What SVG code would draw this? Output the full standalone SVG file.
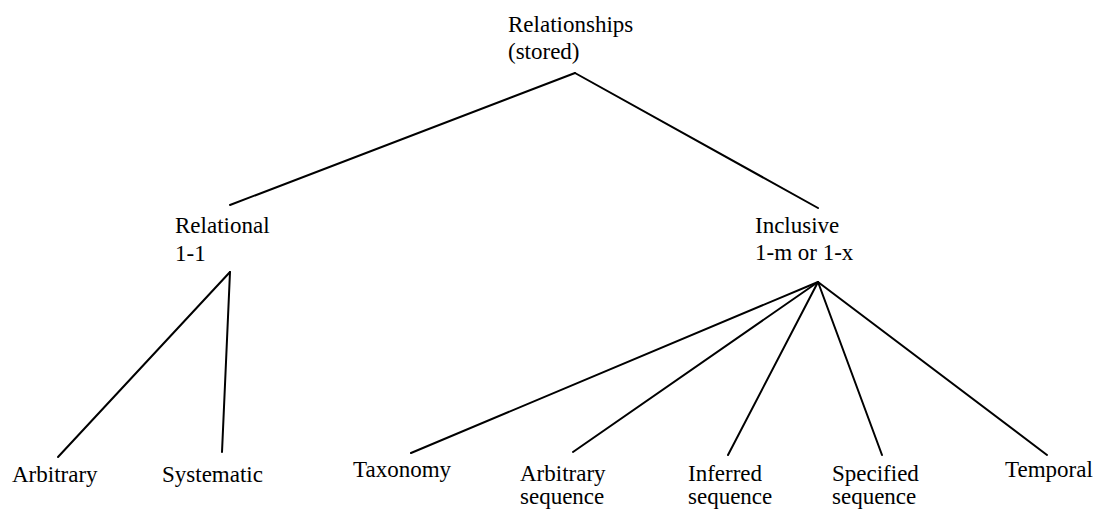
<svg xmlns="http://www.w3.org/2000/svg" width="1102" height="511" viewBox="0 0 1102 511">
  <style>
    .lbl { font-family: "Liberation Serif", "Times New Roman", serif; font-size: 23px; fill: #000; }
    .edge { stroke: #000; stroke-width: 2; fill: none; stroke-linecap: round; }
  </style>
  <rect width="1102" height="511" fill="#fff"/>

  <!-- tree edges -->
  <g id="connectors">
    <line class="edge" x1="575" y1="73" x2="230" y2="205"/>
    <line class="edge" x1="575" y1="73" x2="818" y2="208"/>
    <line class="edge" x1="230" y1="272" x2="58" y2="457"/>
    <line class="edge" x1="230" y1="272" x2="222" y2="452"/>
    <line class="edge" x1="818" y1="282" x2="411" y2="453"/>
    <line class="edge" x1="818" y1="282" x2="573" y2="452"/>
    <line class="edge" x1="818" y1="282" x2="728" y2="455"/>
    <line class="edge" x1="818" y1="282" x2="882" y2="455"/>
    <line class="edge" x1="818" y1="282" x2="1047" y2="455"/>
  </g>

  <g id="root">
    <text class="lbl" x="508" y="32">Relationships</text>
    <text class="lbl" x="508" y="59">(stored)</text>
  </g>
  <g id="relational">
    <text class="lbl" x="175" y="233">Relational</text>
    <text class="lbl" x="175" y="261">1-1</text>
  </g>
  <g id="inclusive">
    <text class="lbl" x="755" y="233">Inclusive</text>
    <text class="lbl" x="755" y="260">1-m or 1-x</text>
  </g>
  <g id="arbitrary">
    <text class="lbl" x="12" y="482">Arbitrary</text>
  </g>
  <g id="systematic">
    <text class="lbl" x="162" y="482">Systematic</text>
  </g>
  <g id="taxonomy">
    <text class="lbl" x="353" y="477">Taxonomy</text>
  </g>
  <g id="arbitrary-sequence">
    <text class="lbl" x="520" y="481">Arbitrary</text>
    <text class="lbl" x="520" y="504">sequence</text>
  </g>
  <g id="inferred-sequence">
    <text class="lbl" x="688" y="481">Inferred</text>
    <text class="lbl" x="688" y="504">sequence</text>
  </g>
  <g id="specified-sequence">
    <text class="lbl" x="832" y="481">Specified</text>
    <text class="lbl" x="832" y="504">sequence</text>
  </g>
  <g id="temporal">
    <text class="lbl" x="1005" y="477">Temporal</text>
  </g>
</svg>
